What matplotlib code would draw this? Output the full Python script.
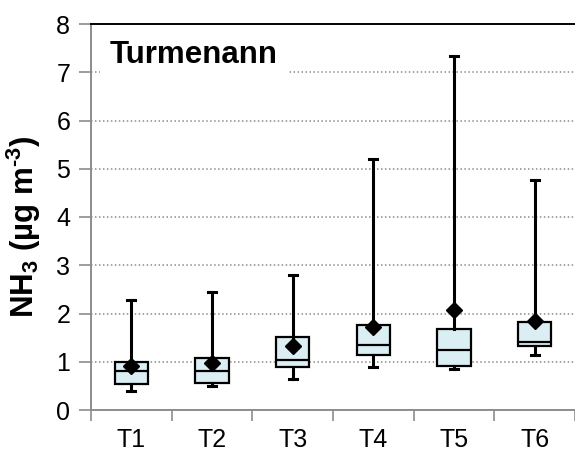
import matplotlib
matplotlib.use('Agg')
import matplotlib.pyplot as plt
from matplotlib.ticker import FixedLocator, NullFormatter

plt.rcParams['font.family'] = ['Liberation Sans', 'DejaVu Sans']
plt.rcParams['mathtext.fontset'] = 'custom'
plt.rcParams['mathtext.rm'] = 'Liberation Sans:bold'
plt.rcParams['mathtext.bf'] = 'Liberation Sans:bold'
plt.rcParams['mathtext.default'] = 'bf'

labels = ['T1', 'T2', 'T3', 'T4', 'T5', 'T6']
whislo = [0.40, 0.50, 0.65, 0.90, 0.86, 1.15]
q1     = [0.54, 0.56, 0.90, 1.15, 0.91, 1.32]
med    = [0.81, 0.80, 1.04, 1.34, 1.25, 1.40]
q3     = [1.00, 1.07, 1.51, 1.76, 1.67, 1.82]
whishi = [2.27, 2.44, 2.80, 5.21, 7.34, 4.76]
means  = [0.92, 0.98, 1.32, 1.73, 2.07, 1.85]
yticks = [0, 1, 2, 3, 4, 5, 6, 7, 8]

grey = '#8c8c8c'

fig = plt.figure(figsize=(5.75, 4.53), dpi=100)
ax = fig.add_axes([91/575, 1-410/453, 1-91/575, (410-24)/453])

stats = []
for i in range(len(labels)):
  stats.append(dict(label=labels[i], whislo=whislo[i], q1=q1[i], med=med[i],
                    q3=q3[i], whishi=whishi[i], mean=means[i]))

pos = list(range(len(labels)))
ax.bxp(stats, positions=pos, widths=0.41, capwidths=0.1, showmeans=True,
       showfliers=False, patch_artist=True,
       boxprops=dict(facecolor='#daeef3', edgecolor='black', lw=1.6),
       medianprops=dict(color='black', lw=1.6),
       whiskerprops=dict(color='black', lw=2.2),
       capprops=dict(color='black', lw=2.2),
       meanprops=dict(marker='D', markerfacecolor='black', markeredgecolor='black', markersize=8),
       zorder=3)

ax.set_xlim(-0.5, 5.5)
ax.set_ylim(0, 8)
ax.set_yticks(yticks)
for y in yticks[1:-1]:
  ax.axhline(y, color=grey, lw=1.1, ls=(0, (1, 1.6)), zorder=1)

ax.set_xticks(pos)
ax.set_xticklabels(labels)
ax.xaxis.set_minor_locator(FixedLocator([p - 0.5 for p in range(len(labels) + 1)]))
ax.xaxis.set_minor_formatter(NullFormatter())
ax.tick_params(axis='x', which='major', length=0, labelsize=18, pad=13)
ax.tick_params(axis='x', which='minor', length=8, width=1.2, color=grey, direction='out')
ax.tick_params(axis='y', length=9, width=1.2, color=grey, labelsize=18, pad=6)

ax.spines['right'].set_visible(False)
ax.spines['top'].set_color('black')
ax.spines['top'].set_linewidth(1.4)
ax.spines['left'].set_color(grey)
ax.spines['left'].set_linewidth(1.4)
ax.spines['bottom'].set_color(grey)
ax.spines['bottom'].set_linewidth(1.4)

ax.set_ylabel(r'NH$_3$ (µg m$^{\text{-3}}$)', fontsize=22.5, fontweight='bold')
ax.yaxis.set_label_coords(-0.1, 0.475)

ax.text(0.039, 0.92, 'Turmenann', transform=ax.transAxes, fontsize=22.5,
        fontweight='bold', va='center', ha='left', zorder=5,
        bbox=dict(facecolor='white', edgecolor='none', pad=7))

fig.savefig('out.png', dpi=100)
